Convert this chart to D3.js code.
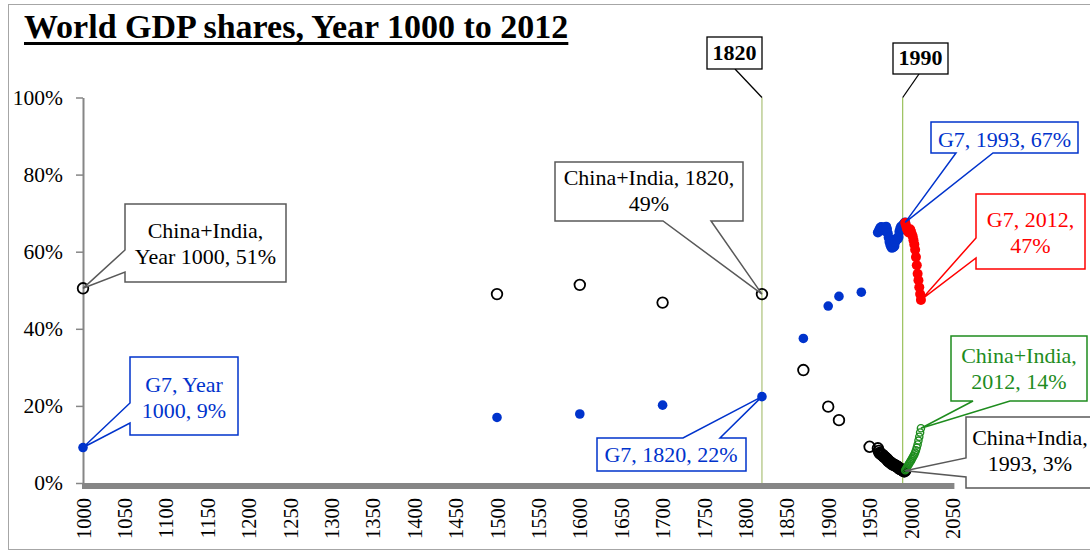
<!DOCTYPE html>
<html>
<head>
<meta charset="utf-8">
<script src="https://cdn.jsdelivr.net/npm/d3@7"></script>
<style>
  body { margin: 0; background: #fff; }
  svg { display: block; font-family: 'Liberation Serif', 'Times New Roman', serif; }
</style>
</head>
<body>
<div id="container"></div>
<script>
'use strict';

// ---- data (shares of world GDP, %) ----
const ciYearsEarly = [1000, 1500, 1600, 1700, 1820, 1870, 1900, 1913, 1950];
const ciSharesEarly = [50.5, 49.0, 51.4, 46.8, 49.0, 29.3, 19.8, 16.3, 9.4];

const ciYearsMid = d3.range(1960, 1994);
const ciSharesMid = [9.0, 8.3, 7.8, 7.6, 7.5, 7.3, 7.2, 6.9, 6.7, 6.6,
                     6.4, 6.2, 5.9, 5.6, 5.5, 5.4, 5.1, 5.0, 4.8, 4.8,
                     4.7, 4.5, 4.4, 4.3, 4.2, 3.9, 3.7, 3.6, 3.6, 3.5,
                     3.3, 3.1, 3.0, 3.2];

const ciYearsLate = d3.range(1993, 2013);
const ciSharesLate = [3.3, 3.6, 4.0, 4.4, 4.8, 5.1, 5.5, 5.8, 6.2, 6.6,
                      7.0, 7.4, 7.9, 8.5, 9.2, 10.0, 11.0, 12.0, 13.1, 14.2];

const g7YearsEarly = [1000, 1500, 1600, 1700, 1820, 1870, 1900, 1913, 1940];
const g7SharesEarly = [9.2, 17.0, 17.9, 20.2, 22.4, 37.5, 45.9, 48.4, 49.5];

const g7YearsMid = d3.range(1960, 1994);
const g7SharesMid = [65.0, 65.3, 65.8, 66.2, 66.4, 66.3, 66.0, 65.5, 65.9, 66.3,
                     66.5, 65.9, 64.8, 63.7, 62.6, 61.8, 61.3, 61.0, 61.6, 61.2,
                     61.5, 62.5, 63.2, 63.5, 63.3, 63.8, 65.2, 66.0, 66.5, 66.1,
                     66.8, 67.1, 67.4, 67.6];

const g7YearsLate = d3.range(1993, 2013);
const g7SharesLate = [67.5, 66.8, 66.0, 65.5, 65.0, 65.4, 65.8, 65.2, 64.6, 64.0,
                      63.0, 61.9, 60.5, 58.6, 56.5, 54.3, 52.6, 50.8, 49.0, 47.5];

const xTicks = d3.range(1000, 2051, 50);
const yTicks = [0, 20, 40, 60, 80, 100];
const markerYears = [1820, 1990];

const w = 1090;
const h = 552;
const blue = '#0033cc';
const red = '#ff0000';
const green = '#1e8c1e';
const gray = '#868686';

const svg = d3.select('#container')
    .append('svg')
    .attr('width', w)
    .attr('height', h);

// chart frame
svg.append('rect')
    .attr('x', 8.5).attr('y', 4.5)
    .attr('width', 1100).attr('height', 545)
    .attr('fill', 'none')
    .attr('stroke', '#a6a6a6');

const title = svg.append('text')
    .attr('x', 24)
    .attr('y', 38)
    .attr('font-size', 34)
    .attr('font-weight', 'bold')
    .text('World GDP shares, Year 1000 to 2012');
const titleLen = title.node().getComputedTextLength();
svg.append('line')
    .attr('x1', 24).attr('x2', 24 + titleLen)
    .attr('y1', 43.5).attr('y2', 43.5)
    .attr('stroke', '#000')
    .attr('stroke-width', 3);

const x = d3.scaleLinear().domain([1000, 2050]).range([83, 952.4]);
const y = d3.scaleLinear().domain([0, 100]).range([483, 97.5]);

// vertical marker lines
svg.selectAll('.marker')
    .data(markerYears)
    .enter()
    .append('line')
    .attr('class', 'marker')
    .attr('x1', (d) => x(d)).attr('x2', (d) => x(d))
    .attr('y1', y(100)).attr('y2', 484)
    .attr('stroke', (d, i) => i ? '#86b43a' : '#9bb55e')
    .attr('stroke-width', 1);

// axes
const yAxis = d3.axisLeft(y)
    .tickValues(yTicks)
    .tickSize(7)
    .tickSizeOuter(0)
    .tickPadding(13)
    .tickFormat((d) => d + '%');
const gy = svg.append('g')
    .attr('transform', 'translate(' + x(1000) + ',0)')
    .call(yAxis);
gy.select('.domain').attr('stroke', gray).attr('stroke-width', 2);
gy.selectAll('.tick line').attr('stroke', gray).attr('stroke-width', 1.5);
gy.selectAll('.tick text')
    .attr('font-family', 'Liberation Serif')
    .attr('font-size', 21.5)
    .attr('fill', '#000');

const xAxis = d3.axisBottom(x)
    .tickValues(xTicks)
    .tickSize(0)
    .tickSizeOuter(0)
    .tickFormat(d3.format('d'));
const gx = svg.append('g')
    .attr('transform', 'translate(0,486)')
    .call(xAxis);
gx.select('.domain').attr('stroke', gray).attr('stroke-width', 6)
    .attr('d', 'M' + (x(1000) - 1) + ',0H' + (x(2050) + 2));
gx.selectAll('.tick text')
    .attr('font-family', 'Liberation Serif')
    .attr('font-size', 20.5)
    .attr('fill', '#000')
    .attr('transform', 'rotate(-90)')
    .attr('x', -12)
    .attr('y', 0)
    .attr('dy', '0.35em')
    .attr('text-anchor', 'end');

// points
const pairs = (ys, vs) => ys.map((yr, i) => ({ year: yr, value: vs[i] }));

function openDots(data, color, r, sw) {
    svg.append('g').selectAll('circle')
        .data(data)
        .enter()
        .append('circle')
        .attr('cx', (d) => x(d.year))
        .attr('cy', (d) => y(d.value))
        .attr('r', r)
        .attr('fill', 'none')
        .attr('stroke', color)
        .attr('stroke-width', sw);
}
function filledDots(data, color, r) {
    svg.append('g').selectAll('circle')
        .data(data)
        .enter()
        .append('circle')
        .attr('cx', (d) => x(d.year))
        .attr('cy', (d) => y(d.value))
        .attr('r', r)
        .attr('fill', color);
}

openDots(pairs(ciYearsEarly, ciSharesEarly), '#000', 5.3, 1.8);
openDots(pairs(ciYearsMid, ciSharesMid), '#000', 5.3, 1.8);
openDots(pairs(ciYearsLate, ciSharesLate), green, 3.6, 1.4);
filledDots(pairs(g7YearsEarly, g7SharesEarly), blue, 4.8);
filledDots(pairs(g7YearsMid, g7SharesMid), blue, 5);
filledDots(pairs(g7YearsLate, g7SharesLate), red, 5);

// year marker labels
const markerBoxes = [
    { x0: 707, y0: 37, x1: 762, y1: 69, lx: 735, text: '1820' },
    { x0: 893, y0: 43, x1: 948, y1: 74, lx: 919, text: '1990' }
];
markerBoxes.forEach((b, i) => {
    svg.append('line')
        .attr('x1', b.lx).attr('y1', b.y1)
        .attr('x2', x(markerYears[i])).attr('y2', y(100))
        .attr('stroke', '#000').attr('stroke-width', 1.3);
    svg.append('rect')
        .attr('x', b.x0).attr('y', b.y0)
        .attr('width', b.x1 - b.x0).attr('height', b.y1 - b.y0)
        .attr('fill', '#fff').attr('stroke', '#000').attr('stroke-width', 1.3);
    svg.append('text')
        .attr('x', (b.x0 + b.x1) / 2).attr('y', b.y1 - 9)
        .attr('text-anchor', 'middle')
        .attr('font-size', 22).attr('font-weight', 'bold')
        .text(b.text);
});

// callouts
const callouts = [
    { box: [125, 204, 286, 282], side: 'left', base: [250, 272], tip: [1000, ciSharesEarly[0]],
      color: '#595959', text: '#000', lines: ['China+India,', 'Year 1000, 51%'], base0: 238, cx: 205.5 },
    { box: [130, 357, 238, 435], side: 'left', base: [403, 423], tip: [1000, g7SharesEarly[0]],
      color: blue, text: blue, lines: ['G7, Year', '1000, 9%'], base0: 392, cx: 184 },
    { box: [555, 162, 743, 221], side: 'bottom', base: [663, 711], tip: [1820, ciSharesEarly[4]],
      color: '#595959', text: '#000', lines: ['China+India, 1820,', '49%'], base0: 185, cx: 649 },
    { box: [597, 438, 746, 471], side: 'top', base: [683, 720], tip: [1820, g7SharesEarly[4]],
      color: blue, text: blue, lines: ['G7, 1820, 22%'], base0: 462, cx: 671 },
    { box: [931, 122, 1078, 153], side: 'bottom', base: [956, 993], tip: [1993, g7SharesMid[33]],
      color: blue, text: blue, lines: ['G7, 1993, 67%'], base0: 147, cx: 1004.5 },
    { box: [976, 194, 1085, 269], side: 'left', base: [238, 258], tip: [2012, g7SharesLate[19]],
      color: red, text: red, lines: ['G7, 2012,', '47%'], base0: 227, cx: 1030.5 },
    { box: [951, 336, 1087, 401], side: 'bottom', base: [973, 1010], tip: [2012, ciSharesLate[19]],
      color: green, text: green, lines: ['China+India,', '2012, 14%'], base0: 363, cx: 1019 },
    { box: [966, 417, 1100, 488], side: 'left', base: [458, 477], tip: [1993, ciSharesMid[33]],
      color: '#595959', text: '#000', lines: ['China+India,', '1993, 3%'], base0: 445, cx: 1030 }
];

function calloutPath(c) {
    const [x0, y0, x1, y1] = c.box;
    const tx = x(c.tip[0]);
    const ty = y(c.tip[1]);
    const [a, b] = c.base;
    const p = d3.path();
    if (c.side === 'left') {
        p.moveTo(x0, y0); p.lineTo(x1, y0); p.lineTo(x1, y1); p.lineTo(x0, y1);
        p.lineTo(x0, b); p.lineTo(tx, ty); p.lineTo(x0, a);
    } else if (c.side === 'bottom') {
        p.moveTo(x0, y0); p.lineTo(x1, y0); p.lineTo(x1, y1);
        p.lineTo(b, y1); p.lineTo(tx, ty); p.lineTo(a, y1); p.lineTo(x0, y1);
    } else {
        p.moveTo(x0, y0); p.lineTo(a, y0); p.lineTo(tx, ty); p.lineTo(b, y0);
        p.lineTo(x1, y0); p.lineTo(x1, y1); p.lineTo(x0, y1);
    }
    p.closePath();
    return p.toString();
}

callouts.forEach((c) => {
    svg.append('path')
        .attr('d', calloutPath(c))
        .attr('fill', '#fff')
        .attr('stroke', c.color)
        .attr('stroke-width', 1.5)
        .attr('stroke-linejoin', 'miter');
    c.lines.forEach((t, i) => {
        svg.append('text')
            .attr('x', c.cx)
            .attr('y', c.base0 + i * 25.5)
            .attr('text-anchor', 'middle')
            .attr('font-size', 22)
            .attr('fill', c.text)
            .text(t);
    });
});
</script>
</body>
</html>
